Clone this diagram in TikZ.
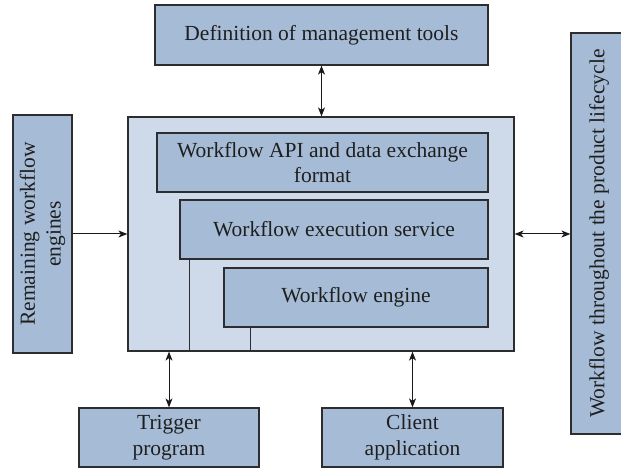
\documentclass[tikz,border=0pt]{standalone}
\usepackage{fontspec}
\setmainfont{Liberation Serif}
\usetikzlibrary{arrows.meta}
\definecolor{boxblue}{RGB}{166,188,214}
\definecolor{paleblue}{RGB}{206,218,234}
\definecolor{edge}{RGB}{45,45,48}
\begin{document}
\begin{tikzpicture}[x=1pt,y=1pt,
  every node/.style={font=\fontsize{21.5}{25.5}\selectfont, text=black!88},
  block/.style={draw=edge, line width=1.2pt, fill=boxblue, inner sep=0pt, align=center},
  outer/.style={draw=edge, line width=1.2pt, fill=paleblue, inner sep=0pt},
  link/.style={draw=black!90, line width=1pt},
  tip/.style={-{Stealth[length=9pt,width=7pt,inset=2.5pt]}},
  both/.style={{Stealth[length=9pt,width=7pt,inset=2.5pt]}-{Stealth[length=9pt,width=7pt,inset=2.5pt]}}]
\useasboundingbox (0,0) rectangle (621,468);

% outer engine frame and its nested layers
\node[outer, minimum width=386pt, minimum height=234pt] (main) at (321,234) {};
\node[block, minimum width=331pt, minimum height=59pt] (api) at (322.5,305.5)
  {Workflow API and data exchange\\format};
\node[block, minimum width=308pt, minimum height=59pt] (exec) at (334,238.5)
  {Workflow execution service};
\node[block, minimum width=264pt, minimum height=59pt] (engine) at (356,170.5)
  {Workflow engine};

% surrounding components
\node[block, minimum width=333pt, minimum height=60pt] (tools) at (321.5,433)
  {Definition of management tools};
\node[block, rotate=90, minimum width=238pt, minimum height=59pt] (remain) at (42.5,234)
  {Remaining workflow\\engines};
\node[block, rotate=90, minimum width=401pt, minimum height=56pt] (life) at (599,234.5)
  {Workflow throughout the product lifecycle};
\node[block, minimum width=180pt, minimum height=59pt] (trigger) at (169,30.5)
  {Trigger\\program};
\node[block, minimum width=181pt, minimum height=59pt] (client) at (412.5,30.5)
  {Client\\application};

% layer separators down to the frame bottom
\draw[draw=edge, line width=1.2pt] ([xshift=10pt]exec.south west) -- ([xshift=10pt]exec.south west |- main.south);
\draw[draw=edge, line width=1.2pt] ([xshift=27pt]engine.south west) -- ([xshift=27pt]engine.south west |- main.south);

% connectors
\draw[link, both] (tools.south) -- (tools.south |- main.north);
\draw[link, tip] (remain.south) -- (main.west);
\draw[link, both] (main.east) -- (main.east -| life.north);
\draw[link, both] (trigger.north |- main.south) -- (trigger.north);
\draw[link, both] (client.north |- main.south) -- (client.north);
\end{tikzpicture}
\end{document}
